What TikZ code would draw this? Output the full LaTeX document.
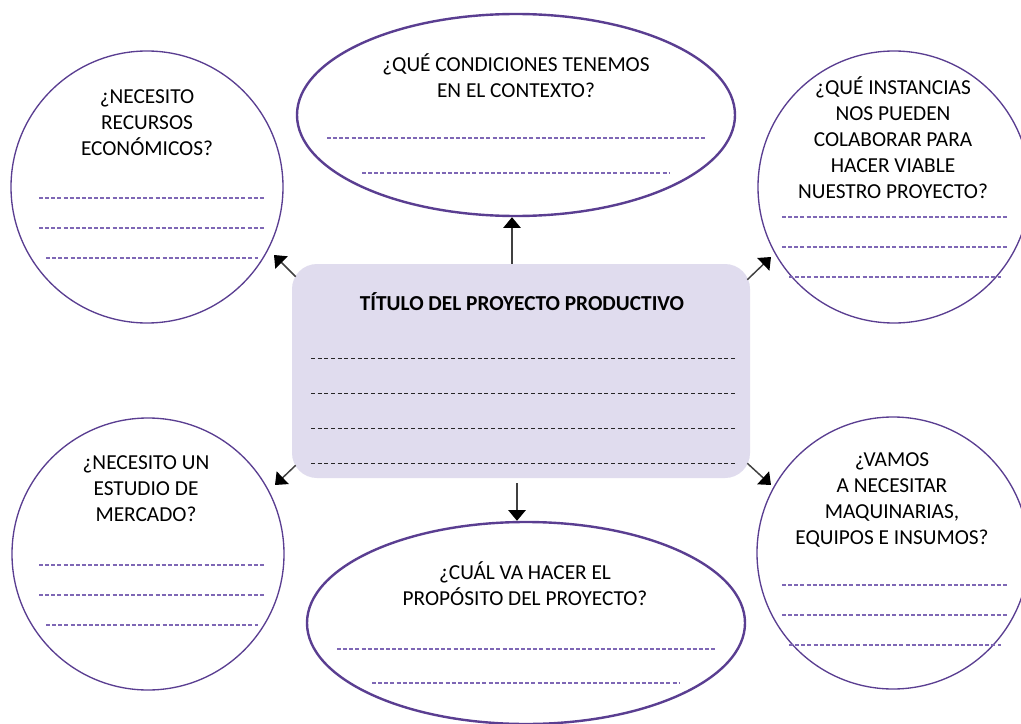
\documentclass[tikz,border=0pt]{standalone}
\usepackage{fontspec}
\setmainfont{Carlito}
\usetikzlibrary{shapes.geometric,arrows.meta,calc}
\definecolor{outl}{HTML}{5A3E91}
\definecolor{dashpurple}{HTML}{7E67B5}
\definecolor{boxfill}{HTML}{E0DCEE}
\begin{document}
\begin{tikzpicture}[x=0.75pt,y=-0.75pt,
  qtext/.style={align=center,font=\fontsize{16}{19.5}\selectfont,inner sep=0pt},
  bubble/.style={circle,draw=outl,line width=1pt,minimum size=204pt,inner sep=0pt},
  oval/.style={ellipse,draw=outl,line width=1.8pt,minimum width=328.5pt,minimum height=151.5pt,inner sep=0pt},
  pline/.style={draw=dashpurple,line width=0.8pt,dash pattern=on 3pt off 1.6pt},
  bline/.style={draw=black!85,line width=0.6pt,dash pattern=on 3pt off 2pt},
  arr/.style={draw=black!75,line width=1.1pt,-{Triangle[width=13pt,length=8pt,color=black,fill=black]}}]
\useasboundingbox (0,0) rectangle (1021,724);
\fill[white] (0,0) rectangle (1021,724);

% shapes
\node[oval] (top) at (516,115) {};
\node[oval] (bot) at (526,623) {};
\node[bubble] (tl) at (147,187) {};
\node[bubble] (tr) at (894,187) {};
\node[bubble] (bl) at (148,554) {};
\node[bubble] (br) at (893,553) {};
\node[rectangle,rounded corners=18.75pt,fill=boxfill,minimum width=343.5pt,minimum height=160.5pt,inner sep=0pt] (box) at (521,371) {};

% texts
\node[qtext] (ttop) at (516,75.5) {¿QUÉ CONDICIONES TENEMOS\\EN EL CONTEXTO?};
\node[qtext] (tbot) at (525,583.5) {¿CUÁL VA HACER EL\\PROPÓSITO DEL PROYECTO?};
\node[qtext] (ttl) at (147,122.5) {¿NECESITO\\RECURSOS\\ECONÓMICOS?};
\node[qtext] (ttr) at (893,137.5) {¿QUÉ INSTANCIAS\\NOS PUEDEN\\COLABORAR PARA\\HACER VIABLE\\NUESTRO PROYECTO?};
\node[qtext] (tbl) at (146,489) {¿NECESITO UN\\ESTUDIO DE\\MERCADO?};
\node[qtext] (tbr) at (892,500) {¿VAMOS\\A NECESITAR\\MAQUINARIAS,\\EQUIPOS E INSUMOS?};
\node[qtext,font=\fontsize{16}{19.5}\selectfont\bfseries] (title) at (522,302) {TÍTULO DEL PROYECTO PRODUCTIVO};

% dashed answer lines
\draw[pline] (327,138) -- (705,138);
\draw[pline] (362,173) -- (670,173);
\draw[pline] (337,649) -- (715,649);
\draw[pline] (372,683) -- (680,683);
\foreach \cx/\cy in {0/0, 0/367, 743/19, 743/387}{
  \draw[pline] (39+\cx,198+\cy) -- (265+\cx,198+\cy);
  \draw[pline] (39+\cx,228+\cy) -- (265+\cx,228+\cy);
  \draw[pline] (46+\cx,258+\cy) -- (258+\cx,258+\cy);
}
\foreach \yy in {358,393,428,463}{
  \draw[bline] (311,\yy) -- (735,\yy);
}

% connectors
\draw[arr] ($(box.north)+(-9,0)$) -- ($(top.south)+(-4,0)$);
\draw[arr] ($(box.south)+(-4,5)$) -- ($(bot.north)+(-9,0)$);
\draw[arr] ($(box.north west)+(4,13)$) -- ($(tl.center)+(127,68)$);
\draw[arr] ($(box.north east)+(-3,16)$) -- ($(tr.center)+(-123,70)$);
\draw[arr] ($(box.south west)+(4,-13)$) -- ($(bl.center)+(127,-69)$);
\draw[arr] ($(box.south east)+(-3,-15)$) -- ($(br.center)+(-122,-68)$);
\end{tikzpicture}
\end{document}
